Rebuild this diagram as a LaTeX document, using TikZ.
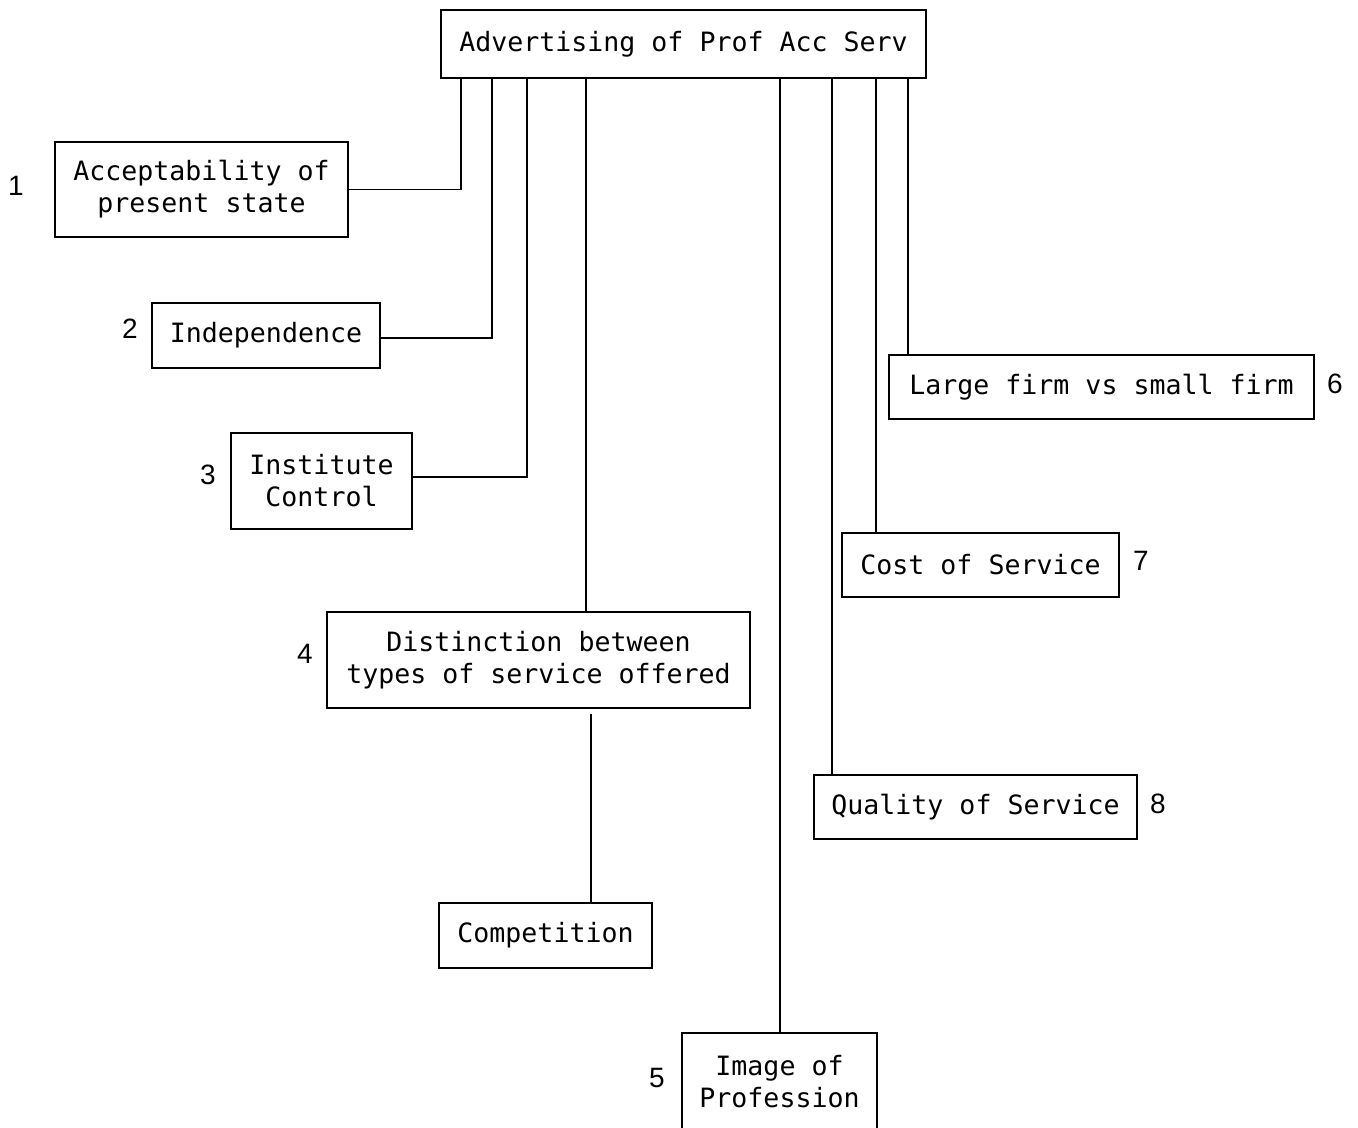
\documentclass[tikz,border=0pt]{standalone}
\usepackage{fontspec}
\newfontfamily\boxfont{DejaVu Sans Mono}
\newfontfamily\numfont{Liberation Sans}
\usetikzlibrary{calc}
\begin{document}
\begin{tikzpicture}[x=0.5pt,y=-0.5pt,
  line width=0.9pt,
  concept/.style={draw, line width=0.9pt, rectangle, align=center, inner sep=0pt,
    font=\boxfont\fontsize{13.3pt}{16pt}\selectfont},
  numlabel/.style={font=\numfont\fontsize{14pt}{16pt}\selectfont, inner sep=0pt},
  link/.style={line width=0.9pt}]
\useasboundingbox[fill=white] (0,0) rectangle (1358,1128);

% concept boxes
\node[concept, minimum width=242.5pt, minimum height=34pt] (adv) at (683.5,44) {Advertising of Prof Acc Serv};
\node[concept, minimum width=146.5pt, minimum height=47.5pt] (acc) at (201.5,189.5) {Acceptability of\\present state};
\node[concept, minimum width=114pt, minimum height=32.5pt] (ind) at (266,335.5) {Independence};
\node[concept, minimum width=90.5pt, minimum height=48pt] (ins) at (321.5,481) {Institute\\Control};
\node[concept, minimum width=211.5pt, minimum height=48pt] (dis) at (538.5,660) {Distinction between\\types of service offered};
\node[concept, minimum width=106.5pt, minimum height=32.5pt] (com) at (545.5,935.5) {Competition};
\node[concept, minimum width=97.5pt, minimum height=49pt] (img) at (779.5,1082) {Image of\\Profession};
\node[concept, minimum width=212.5pt, minimum height=32pt] (lrg) at (1101.5,387) {Large firm vs small firm};
\node[concept, minimum width=138.5pt, minimum height=32pt] (cst) at (980.5,565) {Cost of Service};
\node[concept, minimum width=161.5pt, minimum height=32pt] (qua) at (975.5,807) {Quality of Service};

% number labels
\node[numlabel] (n1) at (16,186) {1};
\node[numlabel] (n2) at (130,329) {2};
\node[numlabel] (n3) at (208,475) {3};
\node[numlabel] (n4) at (305,654) {4};
\node[numlabel] (n5) at (657,1078) {5};
\node[numlabel] (n6) at (1335,384) {6};
\node[numlabel] (n7) at (1141,561) {7};
\node[numlabel] (n8) at (1158,804) {8};

% branch points on the bottom edge of the main box
\path (adv.south west) ++(21,0)  coordinate (k1);
\path (adv.south west) ++(52,0)  coordinate (k2);
\path (adv.south west) ++(87,0)  coordinate (k3);
\path (adv.south west) ++(146,0) coordinate (k4);
\path (adv.south west) ++(340,0) coordinate (k5);
\path (adv.south west) ++(392,0) coordinate (k8);
\path (adv.south west) ++(436,0) coordinate (k7);
\path (adv.south west) ++(468,0) coordinate (k6);
\path (com.north) ++(45.5,0) coordinate (kc);
\path (ind.east) ++(0,2.5) coordinate (ei);
\path (ins.east) ++(0,-4) coordinate (es);

% connectors
\draw[link] (k1) |- (acc.east);
\draw[link] (k2) |- (ei);
\draw[link] (k3) |- (es);
\draw[link] (k4) -- (k4 |- dis.north);
\draw[link, shorten <=2.5pt] (dis.south -| kc) -- (kc);
\draw[link] (k5) -- (k5 |- img.north);
\draw[link] (k8) -- (k8 |- qua.north);
\draw[link] (k7) -- (k7 |- cst.north);
\draw[link] (k6) -- (k6 |- lrg.north);
\end{tikzpicture}
\end{document}
